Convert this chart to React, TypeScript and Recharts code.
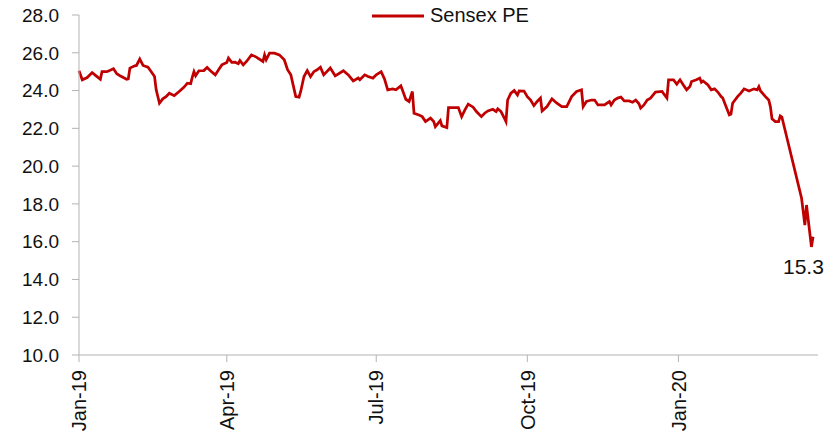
import React from 'react';
import { LineChart, Line, XAxis, YAxis, Legend, ReferenceDot } from 'recharts';

// Sensex 12m fwd PE (Jan-19 to Mar-20)
const dates = [
  '2019-01-01', '2019-01-03', '2019-01-06', '2019-01-09', '2019-01-12', '2019-01-14', '2019-01-15', '2019-01-18',
  '2019-01-22', '2019-01-24', '2019-01-26', '2019-01-30', '2019-01-31', '2019-02-01', '2019-02-04', '2019-02-05',
  '2019-02-07', '2019-02-09', '2019-02-12', '2019-02-14', '2019-02-16', '2019-02-17', '2019-02-19', '2019-02-21',
  '2019-02-23', '2019-02-25', '2019-02-28', '2019-03-03', '2019-03-06', '2019-03-08', '2019-03-10', '2019-03-11',
  '2019-03-12', '2019-03-13', '2019-03-15', '2019-03-18', '2019-03-20', '2019-03-22', '2019-03-25', '2019-03-27',
  '2019-03-29', '2019-04-01', '2019-04-02', '2019-04-04', '2019-04-06', '2019-04-08', '2019-04-09', '2019-04-11',
  '2019-04-13', '2019-04-16', '2019-04-19', '2019-04-23', '2019-04-24', '2019-04-25', '2019-04-27', '2019-04-30',
  '2019-05-03', '2019-05-06', '2019-05-08', '2019-05-10', '2019-05-13', '2019-05-15', '2019-05-16', '2019-05-18',
  '2019-05-20', '2019-05-22', '2019-05-24', '2019-05-26', '2019-05-28', '2019-05-30', '2019-06-03', '2019-06-06',
  '2019-06-11', '2019-06-14', '2019-06-17', '2019-06-20', '2019-06-21', '2019-06-24', '2019-06-26', '2019-06-29',
  '2019-07-01', '2019-07-04', '2019-07-06', '2019-07-08', '2019-07-11', '2019-07-13', '2019-07-16', '2019-07-19',
  '2019-07-21', '2019-07-23', '2019-07-24', '2019-07-27', '2019-07-29', '2019-07-31', '2019-08-03', '2019-08-05',
  '2019-08-06', '2019-08-09', '2019-08-10', '2019-08-13', '2019-08-14', '2019-08-18', '2019-08-20', '2019-08-22',
  '2019-08-24', '2019-08-26', '2019-08-29', '2019-08-31', '2019-09-03', '2019-09-05', '2019-09-07', '2019-09-10',
  '2019-09-12', '2019-09-13', '2019-09-15', '2019-09-17', '2019-09-18', '2019-09-19', '2019-09-21', '2019-09-23',
  '2019-09-25', '2019-09-26', '2019-09-29', '2019-10-01', '2019-10-03', '2019-10-05', '2019-10-07', '2019-10-09',
  '2019-10-10', '2019-10-13', '2019-10-16', '2019-10-19', '2019-10-22', '2019-10-25', '2019-10-28', '2019-10-31',
  '2019-11-03', '2019-11-04', '2019-11-06', '2019-11-09', '2019-11-11', '2019-11-13', '2019-11-17', '2019-11-20',
  '2019-11-21', '2019-11-23', '2019-11-25', '2019-11-27', '2019-11-29', '2019-12-02', '2019-12-04', '2019-12-06',
  '2019-12-08', '2019-12-09', '2019-12-11', '2019-12-13', '2019-12-15', '2019-12-18', '2019-12-22', '2019-12-25',
  '2019-12-26', '2019-12-29', '2019-12-31', '2020-01-02', '2020-01-04', '2020-01-06', '2020-01-08', '2020-01-09',
  '2020-01-12', '2020-01-14', '2020-01-15', '2020-01-16', '2020-01-19', '2020-01-21', '2020-01-23', '2020-01-25',
  '2020-01-27', '2020-01-28', '2020-01-30', '2020-02-01', '2020-02-02', '2020-02-03', '2020-02-06', '2020-02-08',
  '2020-02-10', '2020-02-13', '2020-02-16', '2020-02-18', '2020-02-19', '2020-02-20', '2020-02-23', '2020-02-25',
  '2020-02-26', '2020-02-27', '2020-02-29', '2020-03-02', '2020-03-03', '2020-03-04', '2020-03-16', '2020-03-18',
  '2020-03-19', '2020-03-22', '2020-03-23',
];

const sensexPe = [
  25.05, 24.57, 24.69, 24.95, 24.74, 24.6, 25.0, 25.0,
  25.15, 24.89, 24.78, 24.6, 24.62, 25.19, 25.31, 25.33,
  25.67, 25.33, 25.24, 25.0, 24.74, 24.04, 23.33, 23.56,
  23.68, 23.86, 23.73, 23.95, 24.18, 24.39, 24.36, 24.71,
  25.0, 24.78, 25.05, 25.06, 25.22, 25.05, 24.83, 25.1,
  25.36, 25.49, 25.72, 25.49, 25.5, 25.42, 25.59, 25.36,
  25.54, 25.89, 25.77, 25.54, 25.89, 25.63, 25.98, 25.98,
  25.89, 25.63, 25.1, 24.83, 23.68, 23.65, 23.95, 24.74,
  25.06, 24.74, 25.0, 25.1, 25.24, 24.83, 25.19, 24.78,
  25.05, 24.83, 24.51, 24.66, 24.57, 24.83, 24.74, 24.66,
  24.83, 25.0, 24.62, 24.04, 24.09, 24.04, 24.25, 23.54,
  23.42, 23.95, 22.8, 22.71, 22.62, 22.36, 22.54, 22.36,
  22.09, 22.41, 22.13, 22.04, 23.1, 23.1, 23.1, 22.62,
  22.98, 23.28, 23.12, 22.89, 22.62, 22.8, 22.92, 23.01,
  22.89, 23.03, 22.89, 22.54, 22.36, 23.5, 23.86, 24.0,
  23.77, 23.98, 23.97, 23.68, 23.5, 23.2, 23.42, 23.6,
  22.92, 23.15, 23.56, 23.33, 23.15, 23.15, 23.68, 23.95,
  24.04, 23.15, 23.42, 23.5, 23.5, 23.24, 23.24, 23.42,
  23.24, 23.5, 23.6, 23.65, 23.45, 23.45, 23.38, 23.5,
  23.3, 23.07, 23.24, 23.5, 23.6, 23.92, 23.95, 23.6,
  24.57, 24.57, 24.34, 24.57, 24.3, 24.04, 24.21, 24.48,
  24.57, 24.66, 24.44, 24.51, 24.3, 24.04, 24.09, 23.92,
  23.68, 23.6, 23.15, 22.71, 22.75, 23.33, 23.68, 23.86,
  24.09, 23.98, 24.09, 24.04, 24.21, 23.98, 23.68, 23.5,
  23.15, 22.5, 22.36, 22.36, 22.66, 22.6, 18.3, 16.88,
  17.94, 15.72, 16.26,
];

const tickDates = ['2019-01-01', '2019-04-01', '2019-07-01', '2019-10-01', '2020-01-01'];
const tickLabels = ['Jan-19', 'Apr-19', 'Jul-19', 'Oct-19', 'Jan-20'];
const yTicks = [10, 12, 14, 16, 18, 20, 22, 24, 26, 28];

const lastLabelDate = '2020-03-22';
const lastLabelText = '15.3';

const FONT = 'Arial, "Liberation Sans", sans-serif';
const RED = '#C00000';
const AXIS = '#B3B3B3';

const start = Date.UTC(2019, 0, 1);
const toDay = (s: string) => {
  const [y, m, d] = s.split('-').map(Number);
  return Math.round((Date.UTC(y, m - 1, d) - start) / 86400000);
};

const data = dates.map((d, i) => ({ day: toDay(d), pe: sensexPe[i] }));
const xTicks = tickDates.map(toDay);
const labelDay = toDay(lastLabelDate);
const labelValue = sensexPe[dates.indexOf(lastLabelDate)];

const XTick = (props: any) => {
  const { x, y, payload } = props;
  const label = tickLabels[xTicks.indexOf(payload.value)];
  return (
    <text
      x={x}
      y={y}
      transform={`rotate(-90 ${x} ${y})`}
      textAnchor="end"
      dy="0.36em"
      fill="#111"
      fontSize={20}
      fontFamily={FONT}
    >
      {label}
    </text>
  );
};

const LegendContent = () => (
  <div style={{ display: 'flex', alignItems: 'center', fontFamily: FONT, fontSize: 20, color: '#111', whiteSpace: 'nowrap' }}>
    <svg width={52} height={4} style={{ display: 'block' }}>
      <line x1={0} y1={2} x2={52} y2={2} stroke={RED} strokeWidth={3} />
    </svg>
    <span style={{ marginLeft: 6 }}>Sensex PE</span>
  </div>
);

const App: React.FC = () => {
  return (
    <div style={{ width: 832, height: 436, marginTop: -8 }}>
      <LineChart width={832} height={436} data={data} margin={{ top: 15, right: 22, left: 0, bottom: 1 }}>
        <XAxis
          dataKey="day"
          type="number"
          domain={[0, 450]}
          ticks={xTicks}
          interval={0}
          height={80}
          stroke={AXIS}
          tickSize={7}
          tickMargin={8}
          tick={<XTick />}
        />
        <YAxis
          type="number"
          domain={[10, 28]}
          ticks={yTicks}
          interval={0}
          width={71}
          stroke={AXIS}
          tickSize={7}
          tickMargin={13}
          tickFormatter={(v: number) => v.toFixed(1)}
          tick={{ fill: '#111', fontSize: 19, fontFamily: FONT }}
        />
        <Legend
          verticalAlign="middle"
          align="center"
          layout="horizontal"
          content={<LegendContent />}
          wrapperStyle={{ top: 4, left: 364, width: 'auto' }}
        />
        <Line
          type="linear"
          dataKey="pe"
          name="Sensex PE"
          stroke={RED}
          strokeWidth={2.75}
          dot={false}
          isAnimationActive={false}
        />
        <ReferenceDot
          x={labelDay}
          y={labelValue}
          r={0}
          shape={(p: any) => (
            <text x={p.cx - 8} y={p.cy + 27} textAnchor="middle" fill="#111" fontSize={21} fontFamily={FONT}>
              {lastLabelText}
            </text>
          )}
        />
      </LineChart>
    </div>
  );
};

export default App;
